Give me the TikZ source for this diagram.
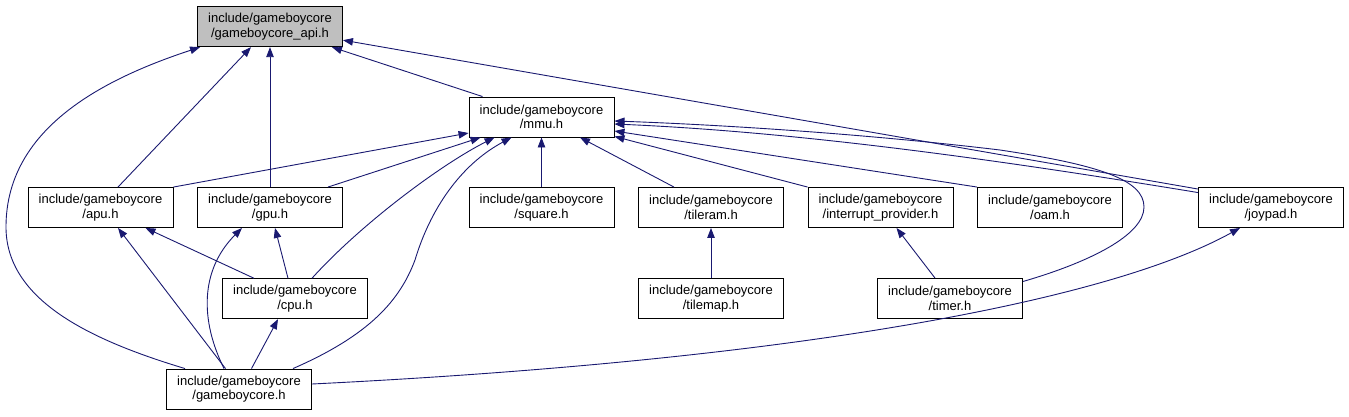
\documentclass[tikz,border=0pt]{standalone}
\usepackage{fontspec}
\setmainfont{Liberation Sans}
\usetikzlibrary{arrows.meta,calc}
\definecolor{edgeblue}{HTML}{191970}
\definecolor{hdrgray}{HTML}{BFBFBF}
\begin{document}
\begin{tikzpicture}[x=1pt,y=-1pt,
  file/.style={draw=black,fill=white,line width=0.9pt,rectangle,minimum width=145pt,minimum height=40pt,inner sep=0pt,align=center,font=\fontsize{13}{14.4}\selectfont},
  edge/.style={draw=edgeblue,line width=0.9pt,-{Triangle[length=10pt,width=7.5pt]}}]
\useasboundingbox (0,0) rectangle (1349,416);
\node[file,fill=hdrgray] (api) at (270,26.7) {include/gameboycore\\/gameboycore\_api.h};
\node[file] (mmu) at (541.5,117) {include/gameboycore\\/mmu.h};
\node[file] (apu) at (100.5,207.5) {include/gameboycore\\/apu.h};
\node[file] (gpu) at (270,207.5) {include/gameboycore\\/gpu.h};
\node[file] (square) at (541.5,207.5) {include/gameboycore\\/square.h};
\node[file] (tileram) at (711,207.5) {include/gameboycore\\/tileram.h};
\node[file] (interrupt) at (880.5,207.5) {include/gameboycore\\/interrupt\_provider.h};
\node[file] (oam) at (1050,207.5) {include/gameboycore\\/oam.h};
\node[file] (joypad) at (1271,207.5) {include/gameboycore\\/joypad.h};
\node[file] (cpu) at (295,298.7) {include/gameboycore\\/cpu.h};
\node[file] (tilemap) at (711,298.5) {include/gameboycore\\/tilemap.h};
\node[file] (timer) at (950,298.5) {include/gameboycore\\/timer.h};
\node[file] (gbc) at (239,389) {include/gameboycore\\/gameboycore.h};
% into api
\draw[edge] ($(apu.north)+(17.5,0)$) -- ($(api.south)+(-19,0)$);
\draw[edge] (gpu.north) -- (api.south);
\draw[edge] ($(gbc.north)+(-54,0)$) .. controls (90,340) and (6,300) .. (6,227) .. controls (6,130) and (100,80) .. ($(api.south west)+(3,0)$);
\draw[edge] ($(mmu.north west)+(14,0)$) -- ($(api.south east)+(-11,0)$);
\draw[edge] ($(joypad.north west)+(0,2)$) -- ($(api.south east)+(0,-7)$);
% into mmu
\draw[edge] ($(joypad.north west)+(0,5.5)$) .. controls (1000,160) and (800,132) .. ($(mmu.east)+(0,7)$);
\draw[edge] ($(timer.east)+(0,-17)$) .. controls (1090,262) and (1144,235) .. (1144,207) .. controls (1144,180) and (1100,165) .. (1000,150) .. controls (850,132) and (700,124) .. ($(mmu.east)+(0,4)$);
\draw[edge] (oam.north west) -- ($(mmu.east)+(0,14)$);
\draw[edge] (interrupt.north west) -- ($(mmu.south east)+(0,-1)$);
\draw[edge] ($(tileram.north)+(-37,0)$) -- ($(mmu.south)+(38.5,0)$);
\draw[edge] (square.north) -- (mmu.south);
\draw[edge] (apu.north east) -- ($(mmu.west)+(0,16)$);
\draw[edge] ($(gpu.north east)+(-15,0)$) -- ($(mmu.south west)+(12,0)$);
\draw[edge] ($(cpu.north)+(17,0)$) .. controls (360,225) and (440,165) .. ($(mmu.south west)+(26,0)$);
\draw[edge] ($(gbc.north)+(54,0)$) .. controls (370,335) and (400,300) .. (415,260) .. controls (430,210) and (460,165) .. ($(mmu.south west)+(43,0)$);
% lower
\draw[edge] ($(cpu.north)+(-7,0)$) -- ($(gpu.south)+(5,0)$);
\draw[edge] ($(cpu.north)+(-41,0)$) -- ($(apu.south)+(45,0)$);
\draw[edge] ($(gbc.north)+(-13.5,0)$) -- ($(apu.south)+(17.5,0)$);
\draw[edge] ($(gbc.north)+(-15,0)$) .. controls (200,320) and (200,270) .. ($(gpu.south)+(-28,0)$);
\draw[edge] ($(gbc.north)+(12.5,0)$) -- ($(cpu.south)+(-17,0)$);
\draw[edge] ($(gbc.east)+(0,-5)$) .. controls (800,360) and (1110,300) .. ($(joypad.south)+(-31,0)$);
\draw[edge] (tilemap.north) -- (tileram.south);
\draw[edge] ($(timer.north)+(-15,0)$) -- ($(interrupt.south)+(16,0)$);
\end{tikzpicture}
\end{document}
